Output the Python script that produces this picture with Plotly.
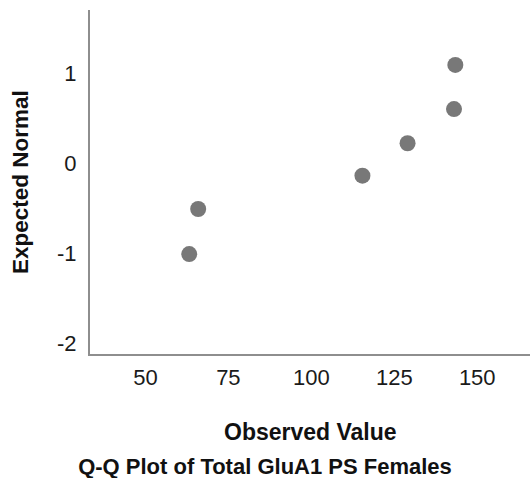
import plotly.graph_objects as go

# Observed values and their expected normal quantiles
observed_value = [63.2, 65.9, 115.4, 129.0, 143.0, 143.4]
expected_normal = [-1.01, -0.51, -0.14, 0.22, 0.60, 1.09]

x_ticks = [50, 75, 100, 125, 150]
y_ticks = [-2, -1, 0, 1]

font_family = "Liberation Sans, Arial, sans-serif"
axis_grey = "#8e8e8e"

fig = go.Figure(
    go.Scatter(
        x=observed_value,
        y=expected_normal,
        mode="markers",
        marker=dict(size=16, color="#787878", line=dict(width=0)),
        hoverinfo="x+y",
    )
)

fig.update_layout(
    width=530,
    height=478,
    margin=dict(l=90, r=0, t=10, b=124),
    paper_bgcolor="white",
    plot_bgcolor="white",
    showlegend=False,
    font=dict(family=font_family, color="#1a1a1a"),
    title=dict(
        text="<b>Q-Q Plot of Total GluA1 PS Females</b>",
        x=0.5,
        xref="container",
        xanchor="center",
        y=1 - 466 / 478,
        yref="container",
        yanchor="middle",
        font=dict(size=22, family=font_family, color="#111"),
    ),
)

fig.update_xaxes(
    range=[33.3, 165.9],
    tickvals=x_ticks,
    ticktext=[str(v) for v in x_ticks],
    showgrid=False,
    zeroline=False,
    showline=True,
    linecolor=axis_grey,
    linewidth=2,
    ticks="outside",
    ticklen=3,
    tickcolor="rgba(0,0,0,0)",
    tickfont=dict(size=22, family=font_family, color="#1a1a1a"),
)

fig.update_yaxes(
    range=[-2.12, 1.70],
    tickvals=y_ticks,
    ticktext=[str(v) for v in y_ticks],
    showgrid=False,
    zeroline=False,
    showline=True,
    linecolor=axis_grey,
    linewidth=2,
    ticks="outside",
    ticklen=7,
    tickcolor="rgba(0,0,0,0)",
    tickfont=dict(size=22, family=font_family, color="#1a1a1a"),
)

# Axis titles
fig.add_annotation(
    text="<b>Observed Value</b>",
    xref="paper", yref="paper",
    x=0.5, y=0,
    xanchor="center", yanchor="middle",
    yshift=-78,
    showarrow=False,
    font=dict(size=23, family=font_family, color="#111"),
)
fig.add_annotation(
    text="<b>Expected Normal</b>",
    xref="paper", yref="paper",
    x=0, y=0.5,
    xanchor="center", yanchor="middle",
    xshift=-70,
    textangle=-90,
    showarrow=False,
    font=dict(size=22.5, family=font_family, color="#111"),
)

fig.write_html("out.html")
